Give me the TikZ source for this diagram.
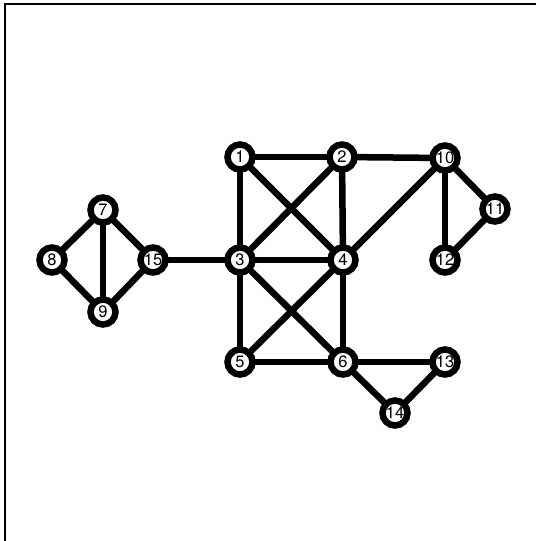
\documentclass[tikz,border=0pt]{standalone}
\usepackage{fontspec}
\setmainfont{TeX Gyre Heros}
\usetikzlibrary{backgrounds}
\begin{document}
\begin{tikzpicture}[x=1pt,y=-1pt,
  vtx/.style={circle,draw=black,fill=white,line width=6.5pt,minimum size=25pt,inner sep=0pt,font=\fontsize{16.5}{17}\selectfont},
  edge/.style={line width=6.5pt}]
\useasboundingbox (0,0) rectangle (536,541);
\draw[line width=1.3pt] (5,541) -- (5,4) -- (536,4);
\node[vtx] (n1) at (240,157) {1};
\node[vtx] (n2) at (342,157) {2};
\node[vtx] (n3) at (240,260) {3};
\node[vtx] (n4) at (343,260) {4};
\node[vtx] (n5) at (240,362) {5};
\node[vtx] (n6) at (343,362) {6};
\node[vtx] (n7) at (103,210) {7};
\node[vtx] (n8) at (52,260) {8};
\node[vtx] (n9) at (103,312) {9};
\node[vtx] (n10) at (445,158) {10};
\node[vtx] (n11) at (495,209) {11};
\node[vtx] (n12) at (445,260) {12};
\node[vtx] (n13) at (445,362) {13};
\node[vtx] (n14) at (395,413) {14};
\node[vtx] (n15) at (153,260) {15};
\begin{scope}[on background layer]
\draw[edge] (n1.center) -- (n2.center);
\draw[edge] (n1.center) -- (n3.center);
\draw[edge] (n1.center) -- (n4.center);
\draw[edge] (n2.center) -- (n3.center);
\draw[edge] (n2.center) -- (n4.center);
\draw[edge] (n2.center) -- (n10.center);
\draw[edge] (n3.center) -- (n4.center);
\draw[edge] (n3.center) -- (n5.center);
\draw[edge] (n3.center) -- (n6.center);
\draw[edge] (n3.center) -- (n15.center);
\draw[edge] (n4.center) -- (n5.center);
\draw[edge] (n4.center) -- (n6.center);
\draw[edge] (n4.center) -- (n10.center);
\draw[edge] (n5.center) -- (n6.center);
\draw[edge] (n6.center) -- (n13.center);
\draw[edge] (n6.center) -- (n14.center);
\draw[edge] (n13.center) -- (n14.center);
\draw[edge] (n10.center) -- (n11.center);
\draw[edge] (n10.center) -- (n12.center);
\draw[edge] (n11.center) -- (n12.center);
\draw[edge] (n7.center) -- (n8.center);
\draw[edge] (n7.center) -- (n9.center);
\draw[edge] (n7.center) -- (n15.center);
\draw[edge] (n8.center) -- (n9.center);
\draw[edge] (n9.center) -- (n15.center);
\end{scope}
\end{tikzpicture}
\end{document}
